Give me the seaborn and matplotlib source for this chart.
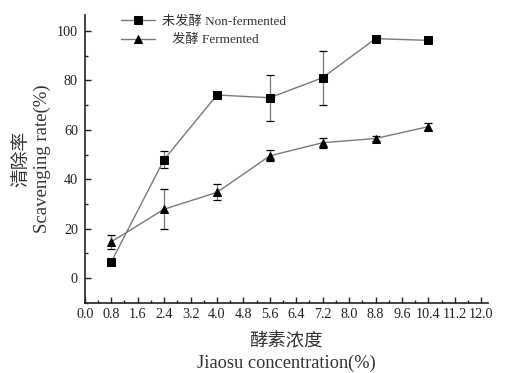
import matplotlib
matplotlib.use("Agg")
import matplotlib.pyplot as plt
import seaborn as sns
import pandas as pd
import numpy as np
from matplotlib.ticker import MultipleLocator, FormatStrFormatter

sns.set_theme(style="white")
plt.rcParams['font.family'] = ['Liberation Serif', 'Noto Sans CJK SC', 'DejaVu Sans']

conc = [0.8, 2.4, 4.0, 5.6, 7.2, 8.8, 10.4]
non_fermented = [6.6, 48.0, 74.1, 73.0, 81.1, 96.9, 96.2]
non_fermented_err = [0.5, 3.6, 0.6, 9.3, 11.0, 0.5, 0.5]
fermented = [14.7, 27.9, 34.7, 49.5, 54.8, 56.5, 61.3]
fermented_err = [2.8, 8.2, 3.2, 2.2, 2.0, 1.2, 1.5]
labels = ["未发酵 Non-fermented", "   发酵 Fermented"]

df = pd.DataFrame({
    "conc": conc * 2,
    "rate": non_fermented + fermented,
    "group": [labels[0]] * len(conc) + [labels[1]] * len(conc),
})

fig = plt.figure(figsize=(5.05, 3.73), dpi=100)
ax = fig.add_axes([0.168, 0.188, 0.798, 0.772])

line_col = "#7a7a7a"
for lab, ys, es in [(labels[0], non_fermented, non_fermented_err),
                    (labels[1], fermented, fermented_err)]:
    ax.errorbar(conc, ys, yerr=es, fmt="none", ecolor=line_col, elinewidth=0.9,
                capsize=2.8, capthick=0.9, zorder=2)

sns.lineplot(data=df, x="conc", y="rate", hue="group", style="group",
             markers={labels[0]: "s", labels[1]: "^"}, dashes=False,
             palette={labels[0]: line_col, labels[1]: line_col},
             linewidth=1.0, markersize=5.5, markeredgecolor="black",
             ax=ax, legend=True, zorder=3)
for ln in ax.lines:
    ln.set_markerfacecolor("black")
    ln.set_markeredgecolor("black")

ax.set_xlim(0, 12.2)
ax.set_ylim(-10, 106.5)
ax.xaxis.set_major_locator(MultipleLocator(0.8))
ax.xaxis.set_minor_locator(MultipleLocator(0.4))
ax.xaxis.set_major_formatter(FormatStrFormatter("%.1f"))
ax.yaxis.set_major_locator(MultipleLocator(20))
ax.yaxis.set_minor_locator(MultipleLocator(10))
ax.set_yticks([0, 20, 40, 60, 80, 100])
ax.tick_params(axis="both", which="major", direction="in", length=4, width=1,
               labelsize=10.2, colors="#222222", bottom=True, left=True)
ax.tick_params(axis="y", which="major", pad=5)
ax.tick_params(axis="both", which="minor", direction="in", length=2, width=1,
               bottom=True, left=True)
for s in ["top", "right"]:
    ax.spines[s].set_visible(False)
for s in ["left", "bottom"]:
    ax.spines[s].set_color("#222222")
    ax.spines[s].set_linewidth(1.2)

ax.set_xlabel("酵素浓度\nJiaosu concentration(%)", fontsize=13.2, color="#333333",
              labelpad=9, linespacing=1.3)
ax.set_ylabel("清除率\nScavenging rate(%)", fontsize=13.5, color="#333333",
              labelpad=4, linespacing=1.3)

leg = ax.legend(loc="upper left", bbox_to_anchor=(0.06, 1.04), frameon=False,
                fontsize=9.5, handlelength=2.6, labelspacing=0.5, handletextpad=0.5)
for t in leg.get_texts():
    t.set_color("#333333")

fig.savefig("out.png", dpi=100, facecolor="white")
